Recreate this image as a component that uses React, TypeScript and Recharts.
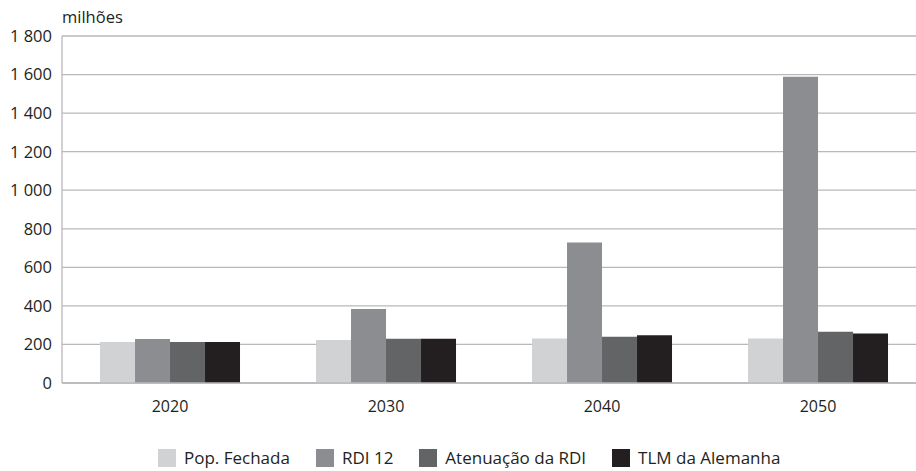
import { BarChart, Bar, XAxis, YAxis, CartesianGrid } from "recharts"

const years = ["2020", "2030", "2040", "2050"]
const popFechada = [213, 223, 231, 231]
const rdi12 = [228, 384, 729, 1588]
const atenuacao = [213, 230, 240, 266]
const tlmAlemanha = [213, 230, 248, 257]
const yTicks = [0, 200, 400, 600, 800, 1000, 1200, 1400, 1600, 1800]

const seriesInfo = [
    { key: "pop", name: "Pop. Fechada", color: "#d1d2d4" },
    { key: "rdi", name: "RDI 12", color: "#8c8d91" },
    { key: "aten", name: "Atenuação da RDI", color: "#636466" },
    { key: "tlm", name: "TLM da Alemanha", color: "#231f20" },
]

const data = years.map((year, i) => ({
    year,
    pop: popFechada[i],
    rdi: rdi12[i],
    aten: atenuacao[i],
    tlm: tlmAlemanha[i],
}))

const font = "'Open Sans', sans-serif"
const textColor = "#231f20"
const gridColor = "#b9b9bc"

// thousands with a space, e.g. "1 800"
const fmt = (v: number) => (v >= 1000 ? `${Math.floor(v / 1000)} ${String(v % 1000).padStart(3, "0")}` : `${v}`)

export default function App() {
    return (
        <div
            style={{
                position: "fixed",
                left: 0,
                top: 0,
                width: 916,
                height: 471,
                overflow: "hidden",
                background: "#fff",
                fontFamily: font,
            }}
        >
            <div style={{ position: "absolute", left: 62, top: 5, fontSize: 16.5, color: textColor }}>
                milhões
            </div>

            <BarChart
                width={930}
                height={471}
                data={data}
                margin={{ top: 36, right: 4, left: 0, bottom: 58 }}
                barCategoryGap="17.6%"
                barGap={0}
            >
                <CartesianGrid vertical={false} stroke={gridColor} strokeWidth={1.3} />
                <XAxis
                    dataKey="year"
                    height={30}
                    axisLine={{ stroke: gridColor, strokeWidth: 1.3 }}
                    tickLine={false}
                    tickSize={0}
                    tickMargin={18}
                    tick={{ fill: textColor, fontSize: 16, fontFamily: font }}
                />
                <YAxis
                    width={62}
                    domain={[0, 1800]}
                    ticks={yTicks}
                    interval={0}
                    tickFormatter={fmt}
                    axisLine={{ stroke: gridColor, strokeWidth: 1.3 }}
                    tickLine={false}
                    tickSize={0}
                    tickMargin={10}
                    tick={{ fill: textColor, fontSize: 16.5, fontFamily: font }}
                />
                {seriesInfo.map((s) => (
                    <Bar key={s.key} dataKey={s.key} name={s.name} fill={s.color} isAnimationActive={false} />
                ))}
            </BarChart>

            <div
                style={{
                    position: "absolute",
                    left: 158,
                    top: 449,
                    display: "flex",
                    alignItems: "center",
                    fontSize: 17,
                    color: textColor,
                    whiteSpace: "nowrap",
                }}
            >
                {seriesInfo.map((s, i) => (
                    <div key={s.key} style={{ display: "flex", alignItems: "center", marginLeft: i === 0 ? 0 : 26 }}>
                        <div style={{ width: 18, height: 18, background: s.color, marginRight: 8 }} />
                        <span style={{ lineHeight: "18px" }}>{s.name}</span>
                    </div>
                ))}
            </div>
        </div>
    )
}
